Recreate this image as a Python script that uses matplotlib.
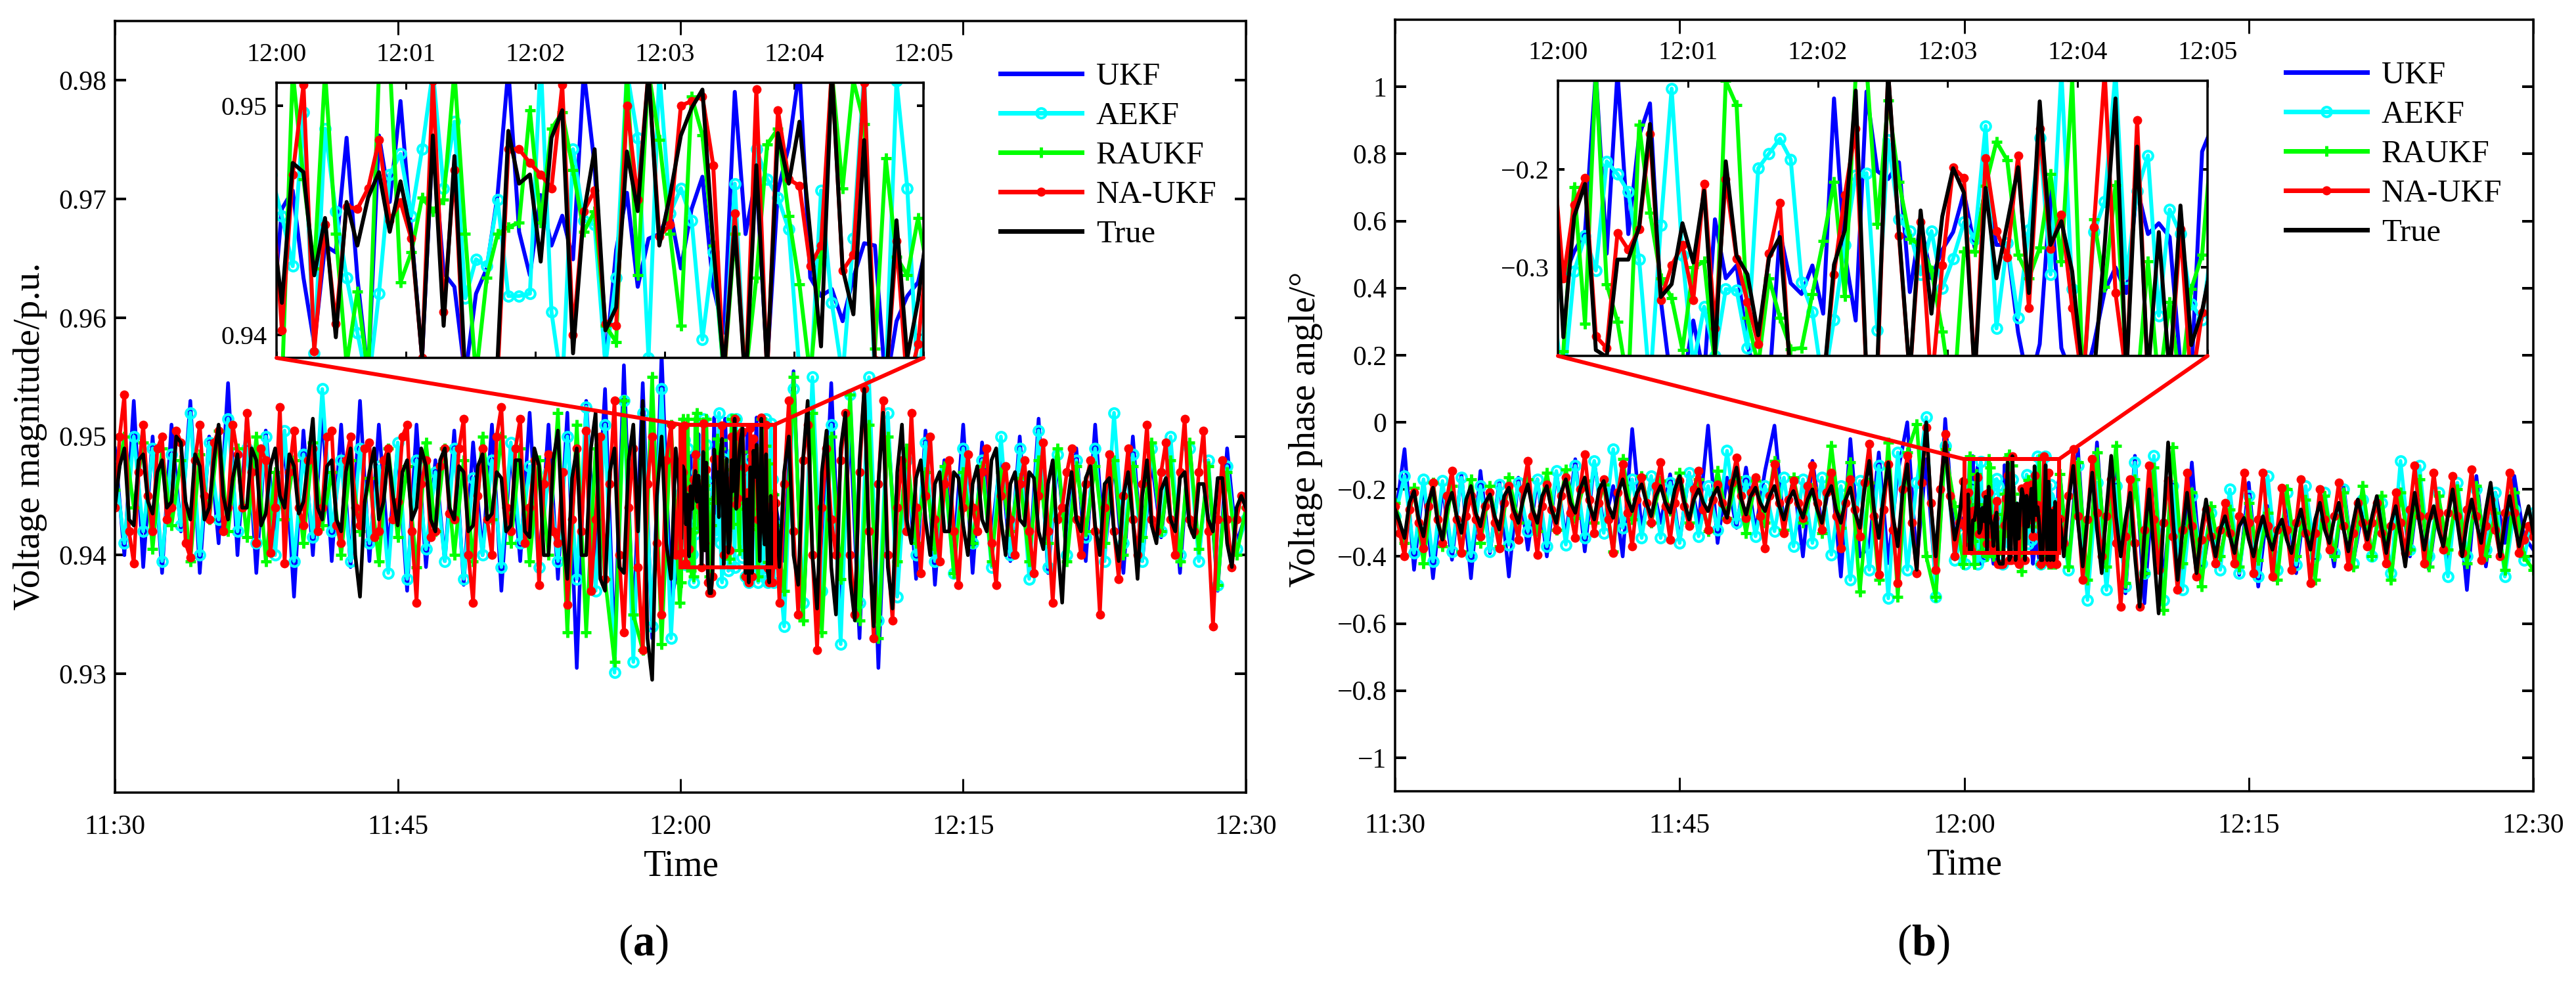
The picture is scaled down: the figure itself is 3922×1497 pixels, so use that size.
import numpy as np
import matplotlib
matplotlib.use("Agg")
import matplotlib.pyplot as plt
from matplotlib.patches import Rectangle, ConnectionPatch
from matplotlib.ticker import FuncFormatter

plt.rcParams["font.family"] = ["Liberation Serif", "DejaVu Serif"]
plt.rcParams["mathtext.fontset"] = "custom"
plt.rcParams["mathtext.bf"] = "Liberation Serif:bold"
plt.rcParams["mathtext.rm"] = "Liberation Serif"

W, H = 3923, 1497

NAMES = ["UKF", "AEKF", "RAUKF", "NA-UKF", "True"]
MAIN_TICKS = [0, 15, 30, 45, 60]
MAIN_TICKLABELS = ["11:30", "11:45", "12:00", "12:15", "12:30"]
ZOOM_TICKS = [30, 31, 32, 33, 34, 35]
ZOOM_TICKLABELS = ["12:00", "12:01", "12:02", "12:03", "12:04", "12:05"]

# minutes after 11:30. the 5 s window around the zoom is read sample by sample,
# the rest of the hour is too dense to read: 15 s steps for the two top series
# (NA-UKF, True), 30 s for the ones underneath
T_ZOOM = 30 + (np.arange(-1, 61) + 0.5) * 5 / 60

# ---- panel (a), voltage magnitude in 1e-4 p.u. ----
MAG_PRE_UKF = [9490,9400,9530,9390,9500,9385,9510,9420,9530,9385,9500,9410,9545,9400,9515,9385,9505,9415,9495,9365,
               9505,9400,9520,9395,9510,9390,9530,9395,9510,9405,9490,9370,9510,9390,9480,9395,9505,9375,9495,9400,
               9510,9370,9490,9395,9520,9390,9510,9380,9520,9305,9530,9395,9540,9320,9560,9340,9545,9330,9570,9360]
MAG_PRE_AEKF = [9475,9410,9500,9420,9490,9395,9485,9425,9520,9400,9495,9430,9515,9420,9490,9410,9500,9400,9505,9395,
                9485,9415,9540,9420,9480,9395,9490,9410,9475,9385,9495,9380,9480,9405,9470,9395,9490,9380,9465,9400,
                9480,9390,9495,9410,9475,9390,9470,9395,9500,9380,9525,9370,9510,9301,9530,9310,9520,9340,9540,9330]
MAG_PRE_RAUKF = [9455,9500,9440,9495,9405,9490,9425,9480,9395,9485,9430,9505,9420,9490,9415,9500,9395,9470,9430,9480,
                 9410,9495,9425,9470,9400,9480,9420,9465,9395,9490,9415,9475,9390,9495,9420,9490,9400,9480,9395,9500,
                 9430,9500,9410,9490,9395,9480,9400,9520,9335,9510,9335,9490,9380,9310,9530,9350,9320,9550,9325,9510]
MAG_PRE_NAUKF = [9440,9500,9535,9420,9393,9470,9510,9450,9420,9490,9500,9430,9440,9505,9495,9410,9398,9480,9510,9450,
                 9430,9495,9505,9420,9440,9510,9485,9440,9520,9470,9410,9490,9480,9402,9440,9525,9393,9470,9505,9440,
                 9425,9480,9490,9420,9440,9500,9505,9425,9410,9480,9500,9440,9425,9490,9495,9415,9420,9480,9490,9430,
                 9445,9500,9510,9420,9360,9460,9480,9415,9420,9475,9490,9435,9430,9490,9515,9400,9360,9450,9490,9430,
                 9400,9500,9525,9440,9420,9490,9515,9410,9440,9480,9375,9460,9485,9420,9410,9470,9358,9430,9490,9420,
                 9505,9370,9430,9500,9380,9460,9530,9400,9335,9440,9490,9390,9320,9460,9500,9410,9350,9480,9510,9400]
MAG_PRE_TRUE = [9440,9475,9490,9430,9425,9480,9485,9445,9435,9470,9480,9440,9445,9500,9495,9445,9430,9485,9475,9430,
                9440,9480,9510,9450,9430,9465,9485,9440,9440,9490,9480,9425,9435,9475,9490,9450,9440,9485,9475,9435,
                9445,9480,9515,9440,9430,9475,9480,9430,9420,9470,9490,9400,9365,9445,9470,9490,9430,9445,9485,9450,
                9425,9470,9480,9430,9440,9490,9475,9430,9420,9480,9490,9440,9430,9475,9470,9420,9425,9475,9485,9430,
                9435,9470,9465,9420,9425,9480,9480,9420,9415,9490,9475,9400,9400,9480,9505,9420,9380,9465,9490,9400,
                9400,9490,9520,9380,9370,9470,9490,9390,9385,9480,9510,9420,9530,9330,9295,9450,9500,9410,9380,9490]

MAG_ZOOM_UKF = [9400,9455,9463,9425,9396,9439,9436,9486,9425,9382,9487,9458,9502,9445,9390,9486,9427,9421,9382,9418,9429,
                9461,9516,9445,9426,9461,9439,9452,9433,9515,9474,9387,9437,9462,9421,9442,9444,9454,9429,9455,9469,
                9421,9401,9506,9444,9469,9387,9463,9482,9516,9425,9417,9420,9406,9425,9440,9439,9377,9406,9417,9423,9444]
MAG_ZOOM_AEKF = [9470,9452,9430,9497,9392,9490,9454,9425,9401,9377,9418,9470,9479,9452,9481,9515,9464,9493,9416,9433,9430,
                 9459,9417,9417,9418,9520,9410,9377,9481,9450,9448,9387,9425,9515,9486,9390,9515,9453,9464,9450,9398,
                 9436,9382,9466,9377,9481,9468,9460,9446,9384,9377,9463,9414,9382,9442,9515,9377,9380,9511,9464,9377,9425]
MAG_ZOOM_RAUKF = [9360,9377,9515,9468,9429,9515,9444,9387,9419,9382,9515,9520,9423,9436,9460,9454,9459,9515,9444,9382,9425,
                  9444,9447,9449,9498,9449,9490,9497,9472,9445,9454,9404,9397,9515,9426,9515,9485,9444,9404,9504,9487,
                  9439,9382,9444,9382,9425,9483,9490,9452,9422,9382,9434,9515,9464,9511,9492,9394,9477,9434,9426,9451,9425]
MAG_ZOOM_NAUKF = [9470,9402,9470,9509,9393,9448,9405,9456,9455,9464,9485,9450,9458,9442,9390,9511,9410,9472,9377,9368,9368,
                  9382,9481,9481,9475,9470,9464,9509,9400,9454,9463,9405,9404,9500,9459,9515,9443,9448,9500,9502,9504,
                  9474,9382,9453,9377,9507,9382,9498,9468,9465,9430,9439,9516,9428,9435,9510,9389,9377,9441,9377,9396,9444]
MAG_ZOOM_TRUE = [9453,9414,9475,9471,9426,9451,9399,9458,9439,9460,9471,9445,9467,9444,9390,9487,9404,9478,9382,9368,9368,
                 9389,9489,9466,9470,9432,9486,9498,9392,9453,9481,9402,9412,9480,9454,9515,9439,9461,9487,9499,9507,
                 9439,9385,9447,9377,9474,9385,9488,9466,9493,9444,9395,9515,9429,9409,9485,9387,9377,9450,9390,9415,9453]

MAG_POST_UKF = [9395,9555,9345,9530,9370,9545,9355,9510,9330,9530,9305,9510,9385,9490,9380,9505,9375,9480,9400,9510,
                9385,9495,9415,9485,9395,9500,9390,9515,9385,9480,9400,9490,9395,9510,9400,9480,9385,9500,9395,9480,
                9415,9490,9385,9495,9400,9475,9370,9490,9410,9435]
MAG_POST_AEKF = [9340,9540,9360,9550,9370,9510,9325,9535,9360,9550,9345,9520,9365,9480,9400,9495,9395,9470,9385,9490,
                 9410,9480,9390,9500,9400,9490,9380,9505,9390,9485,9400,9480,9415,9490,9395,9520,9410,9485,9395,9490,
                 9420,9500,9400,9490,9395,9480,9375,9475,9405,9430]
MAG_POST_RAUKF = [9370,9550,9345,9520,9335,9500,9380,9535,9345,9510,9330,9500,9395,9490,9410,9470,9405,9475,9385,9470,
                  9410,9475,9395,9470,9420,9465,9395,9480,9410,9490,9395,9475,9420,9475,9410,9480,9400,9475,9415,9495,
                  9420,9480,9395,9495,9405,9475,9375,9470,9400,9440]
MAG_POST_NAUKF = [9360,9460,9530,9420,9350,9480,9510,9400,9320,9440,9490,9430,9400,9480,9520,9400,9350,9470,9540,9420,
                  9330,9460,9530,9400,9345,9440,9480,9420,9520,9440,9385,9450,9500,9430,9395,9460,9480,9420,9375,9440,
                  9485,9440,9420,9470,9490,9410,9375,9450,9475,9430,9400,9460,9480,9420,9385,9450,9495,9420,9360,9430,
                  9440,9470,9490,9430,9400,9460,9480,9420,9350,9440,9485,9420,9380,9450,9490,9430,9400,9460,9510,9430,
                  9420,9470,9495,9430,9400,9470,9515,9430,9420,9470,9505,9420,9340,9430,9480,9430,9390,9430,9450,9440]
MAG_POST_TRUE = [9390,9470,9500,9400,9375,9480,9530,9400,9355,9470,9505,9390,9350,9490,9520,9380,9345,9480,9540,9410,
                 9340,9460,9520,9390,9355,9470,9510,9430,9410,9465,9480,9430,9400,9460,9470,9420,9420,9470,9465,9425,
                 9400,9460,9475,9430,9420,9480,9490,9430,9400,9460,9470,9430,9425,9470,9465,9420,9405,9460,9480,9410,
                 9360,9440,9470,9430,9420,9465,9475,9425,9400,9460,9465,9420,9395,9450,9470,9430,9380,9450,9480,9425,
                 9410,9455,9465,9430,9420,9465,9470,9425,9415,9460,9460,9430,9420,9465,9465,9410,9390,9440,9450,9440]

# ---- panel (b), voltage phase angle in 1e-3 degrees ----
ANG_PRE_UKF = [-290,-80,-440,-175,-465,-190,-410,-155,-465,-145,-390,-175,-460,-165,-380,-170,-400,-150,-345,-110,
               -385,-120,-310,-190,-400,-20,-320,-170,-300,-155,-355,-150,-300,-10,-360,-165,-315,-135,-325,-145,
               -10,-310,-165,-400,-115,-310,-145,-460,-50,-400,-370,-90,-420,-150,0,-420,-110,-480,10,-360]
ANG_PRE_AEKF = [-280,-160,-390,-170,-415,-175,-385,-165,-400,-190,-385,-185,-365,-180,-325,-170,-370,-145,-365,-130,
                -345,-115,-330,-80,-315,-170,-345,-160,-345,-180,-360,-150,-340,-190,-320,-85,-300,-175,-340,-190,
                -325,-165,-370,-170,-360,-165,-395,-190,-470,-175,-440,-130,-525,-90,-440,-180,15,-520,-70,-410]
ANG_PRE_RAUKF = [-240,-360,-195,-420,-180,-370,-190,-385,-170,-360,-190,-370,-165,-300,-170,-325,-150,-320,-140,-285,
                 -175,-300,-185,-385,-110,-290,-160,-300,-175,-265,-150,-300,-170,-325,-145,-285,-165,-330,-175,-300,
                 -115,-320,-165,-300,-195,-330,-70,-315,-120,-505,-180,-470,-60,-520,-90,-5,-400,-520,-80,-250]
ANG_PRE_NAUKF = [-250,-330,-400,-260,-210,-300,-375,-250,-180,-290,-360,-220,-145,-290,-390,-280,-220,-290,-340,-250,
                 -210,-300,-375,-240,-190,-280,-350,-200,-115,-280,-395,-250,-185,-260,-320,-220,-165,-270,-345,-200,
                 -95,-230,-330,-240,-170,-290,-390,-210,-125,-270,-370,-230,-165,-240,-300,-190,-120,-250,-350,-240,
                 -175,-250,-310,-200,-145,-260,-320,-230,-185,-240,-290,-180,-105,-220,-285,-210,-165,-280,-375,-220,
                 -125,-240,-330,-230,-175,-240,-285,-190,-130,-240,-320,-210,-150,-280,-375,-240,-170,-260,-340,-180,
                 -65,-280,-455,-260,-125,-320,-480,-200,-100,-300,-450,-180,-15,-240,-440,-200,-35,-220,-400,-300]
ANG_PRE_TRUE = [-260,-300,-345,-240,-205,-290,-340,-240,-195,-300,-350,-250,-210,-280,-330,-230,-190,-270,-310,-240,
                -215,-280,-320,-220,-195,-260,-300,-230,-185,-260,-300,-220,-190,-260,-300,-210,-170,-240,-270,-200,
                -165,-250,-290,-200,-175,-250,-285,-210,-170,-230,-265,-210,-185,-240,-280,-220,-190,-240,-270,-200,
                -160,-240,-290,-230,-200,-240,-265,-220,-195,-250,-285,-190,-135,-230,-275,-220,-195,-240,-265,-220,
                -190,-250,-290,-230,-205,-250,-285,-230,-200,-260,-300,-220,-190,-260,-300,-230,-195,-270,-315,-200,
                -115,-260,-345,-220,-120,-280,-370,-210,-125,-320,-440,-180,0,-250,-400,-200,-60,-240,-350,-280]

ANG_ZOOM_UKF = [-285,-311,-284,-264,-101,-286,-101,-266,-166,-133,-333,-422,-422,-354,-411,-251,-311,-298,-378,-422,-422,
                -264,-316,-327,-298,-347,-128,-286,-354,-121,-202,-210,-193,-325,-255,-311,-282,-264,-224,-280,-219,
                -277,-277,-366,-422,-378,-222,-382,-411,-422,-378,-324,-300,-326,-219,-266,-255,-269,-400,-411,-182,-155]
ANG_ZOOM_AEKF = [-333,-422,-304,-268,-303,-192,-205,-223,-292,-422,-257,-118,-288,-400,-340,-390,-322,-323,-382,-199,-184,
                 -169,-190,-315,-345,-422,-353,-277,-206,-204,-364,-170,-251,-263,-307,-263,-321,-291,-254,-271,-156,
                 -362,-275,-351,-262,-168,-307,-101,-322,-422,-264,-233,-101,-311,-222,-186,-349,-241,-266,-337,-353,-266]
ANG_ZOOM_RAUKF = [-422,-385,-218,-357,-101,-317,-355,-422,-155,-244,-311,-331,-384,-300,-294,-400,-110,-135,-351,-400,-311,
                  -351,-383,-382,-327,-273,-213,-329,-105,-95,-256,-130,-213,-271,-277,-303,-365,-444,-284,-284,-217,
                  -172,-191,-287,-311,-280,-205,-294,-109,-422,-251,-320,-216,-400,-422,-294,-422,-335,-422,-322,-287,-155]
ANG_ZOOM_NAUKF = [-177,-311,-236,-209,-370,-382,-265,-282,-261,-164,-333,-298,-277,-333,-215,-362,-210,-291,-335,-378,-286,
                  -234,-422,-422,-422,-422,-307,-226,-159,-411,-411,-101,-268,-411,-254,-422,-298,-198,-209,-411,-189,
                  -263,-290,-186,-341,-159,-281,-246,-341,-422,-259,-101,-326,-411,-150,-422,-400,-411,-261,-422,-346,-288]
ANG_ZOOM_TRUE = [-168,-371,-248,-215,-384,-391,-292,-292,-259,-154,-330,-317,-255,-295,-222,-388,-192,-288,-307,-369,-290,
                 -269,-411,-422,-422,-422,-297,-262,-120,-411,-400,-101,-264,-411,-242,-347,-248,-199,-224,-411,-219,
                 -311,-255,-198,-326,-131,-277,-253,-304,-411,-411,-277,-128,-411,-177,-411,-264,-411,-237,-379,-344,-288]

ANG_POST_UKF = [-430,-80,-520,-60,-470,-120,-510,-100,-540,-150,-470,-185,-480,-120,-470,-290,-400,-250,-455,-180,
                -490,-250,-430,-230,-450,-220,-410,-250,-430,-190,-420,-260,-390,-230,-460,-200,-400,-170,-440,-230,
                -410,-200,-500,-160,-430,-210,-360,-160,-340,-380]
ANG_POST_AEKF = [-440,-130,-530,-180,-500,-190,-490,-120,-450,-100,-530,-190,-500,-220,-420,-270,-440,-200,-450,-220,
                 -460,-160,-440,-210,-425,-190,-400,-210,-390,-200,-420,-230,-400,-240,-450,-115,-380,-130,-400,-210,
                 -460,-180,-400,-200,-380,-210,-460,-260,-410,-270]
ANG_POST_RAUKF = [-430,-120,-470,-90,-430,-70,-480,-170,-450,-135,-560,-75,-420,-210,-490,-250,-400,-260,-430,-240,
                  -410,-270,-470,-200,-400,-230,-470,-220,-400,-210,-430,-190,-400,-220,-470,-210,-380,-170,-430,-220,
                  -380,-200,-420,-190,-400,-270,-440,-210,-400,-440]
ANG_POST_NAUKF = [-360,-220,-80,-280,-470,-290,-110,-270,-400,-280,-170,-360,-550,-340,-170,-360,-550,-320,-130,-290,
                  -440,-300,-175,-340,-500,-320,-150,-310,-460,-350,-260,-340,-420,-320,-240,-330,-420,-280,-150,-300,
                  -450,-290,-150,-310,-460,-320,-195,-320,-440,-300,-170,-330,-480,-330,-200,-290,-380,-280,-180,-310,
                  -430,-330,-240,-300,-370,-300,-240,-330,-420,-310,-210,-300,-390,-260,-130,-280,-420,-280,-150,-270,
                  -380,-270,-160,-280,-390,-260,-140,-280,-410,-310,-230,-320,-400,-270,-150,-270,-390,-350,-310,-340]
ANG_POST_TRUE = [-400,-240,-130,-300,-430,-280,-150,-320,-450,-260,-100,-280,-400,-290,-210,-400,-550,-340,-200,-390,
                 -570,-300,-60,-280,-470,-330,-210,-340,-450,-320,-230,-330,-400,-320,-280,-340,-390,-310,-285,-350,
                 -400,-330,-280,-340,-380,-320,-290,-350,-390,-310,-260,-330,-380,-290,-240,-320,-360,-290,-240,-320,
                 -385,-300,-230,-290,-350,-280,-220,-310,-390,-300,-250,-340,-430,-310,-210,-300,-380,-300,-250,-320,
                 -370,-280,-200,-300,-400,-300,-230,-300,-360,-260,-180,-290,-400,-300,-220,-300,-370,-300,-250,-330]

MAG_TICKS = [0.93, 0.94, 0.95, 0.96, 0.97, 0.98]
MAG_ZOOM_TICKS = [0.94, 0.95]
ANG_TICKS = [-1, -0.8, -0.6, -0.4, -0.2, 0, 0.2, 0.4, 0.6, 0.8, 1]
ANG_ZOOM_TICKS = [-0.3, -0.2]

STYLES = [
    dict(color="#0000ff"),
    dict(color="#00ffff", marker="o", ms=10.5, mfc="none", mew=3),
    dict(color="#00ff00", marker="+", ms=11, mew=3.5),
    dict(color="#ff0000", marker="o", ms=10, mew=0),
    dict(color="#000000"),
]
FS = 30
PX = 72 / 100  # one pixel in points at dpi=100


def to_fig(x0, y0, x1, y1):
    return [x0 / W, 1 - y1 / H, (x1 - x0) / W, (y1 - y0) / H]


def panel(fig, box, zoom_box, pre, zoom, post, scale, ylim, zylim, yticks, zyticks, yfmt, legend_xy):
    ax = fig.add_axes(to_fig(*box))
    handles = []
    for a, b, c, st, name in zip(pre, zoom, post, STYLES, NAMES):
        t_pre = np.arange(len(a)) * 30 / len(a)
        t_post = 35 + (np.arange(len(c)) + 1) * 25 / len(c)
        t = np.concatenate([t_pre, T_ZOOM, t_post])
        y = np.concatenate([a, b, c]) * scale
        handles.append(ax.plot(t, y, lw=5.5 * PX, label=name, **st)[0])
    ax.set_xlim(0, 60)
    ax.set_ylim(*ylim)
    ax.set_xticks(MAIN_TICKS, MAIN_TICKLABELS)
    ax.set_yticks(yticks)
    ax.yaxis.set_major_formatter(FuncFormatter(yfmt))
    ax.tick_params(axis="x", direction="in", top=True, length=21 * PX, width=3 * PX, labelsize=FS, pad=24)
    ax.tick_params(axis="y", direction="in", right=True, length=17 * PX, width=4 * PX, labelsize=FS, pad=9)
    for s in ax.spines.values():
        s.set_linewidth(3.5 * PX)

    # zoom window on top of the main axes
    ins = fig.add_axes(to_fig(*zoom_box), zorder=5)
    for b, st in zip(zoom, STYLES):
        ins.plot(T_ZOOM, np.asarray(b) * scale, lw=6 * PX, **st)
    ins.set_xlim(30, 35)
    ins.set_ylim(*zylim)
    ins.set_xticks(ZOOM_TICKS, ZOOM_TICKLABELS)
    ins.set_yticks(zyticks)
    ins.yaxis.set_major_formatter(FuncFormatter(yfmt))
    ins.tick_params(axis="x", direction="in", top=True, labeltop=True, labelbottom=False,
                    length=10 * PX, width=3 * PX, labelsize=FS - 1, pad=17)
    ins.tick_params(axis="y", direction="in", right=True, length=10 * PX, width=4 * PX, labelsize=FS - 1, pad=10)
    for s in ins.spines.values():
        s.set_linewidth(3.5 * PX)

    # red box and the two connector lines
    ax.add_patch(Rectangle((30, zylim[0]), 5, zylim[1] - zylim[0], fill=False, ec="#ff0000", lw=6 * PX, zorder=6))
    for ax_x, data_x in [(0, 30), (1, 35)]:
        con = ConnectionPatch(xyA=(ax_x, 0), coordsA=ins.transAxes, xyB=(data_x, zylim[1]), coordsB=ax.transData,
                              color="#ff0000", lw=6 * PX, zorder=7)
        fig.add_artist(con)

    leg = fig.legend(handles=handles, loc="upper left", bbox_to_anchor=(legend_xy[0] / W, 1 - legend_xy[1] / H),
                     frameon=False, fontsize=35, handlelength=2.55, handletextpad=0.45, labelspacing=0.33,
                     borderpad=0, borderaxespad=0, numpoints=1)
    for line in leg.get_lines():
        line.set_linewidth(7 * PX)
    return ax


def fmt_mag(v, _):
    return f"{v:.2f}"


def fmt_ang(v, _):
    s = f"{v:.1f}".rstrip("0").rstrip(".")
    if s in ("-0", ""):
        s = "0"
    return s.replace("-", "\u2212")


fig = plt.figure(figsize=(W / 100, H / 100), dpi=100, facecolor="white")

mag_pre = [np.array(v) for v in (MAG_PRE_UKF, MAG_PRE_AEKF, MAG_PRE_RAUKF, MAG_PRE_NAUKF, MAG_PRE_TRUE)]
mag_zoom = [np.array(v) for v in (MAG_ZOOM_UKF, MAG_ZOOM_AEKF, MAG_ZOOM_RAUKF, MAG_ZOOM_NAUKF, MAG_ZOOM_TRUE)]
mag_post = [np.array(v) for v in (MAG_POST_UKF, MAG_POST_AEKF, MAG_POST_RAUKF, MAG_POST_NAUKF, MAG_POST_TRUE)]
ang_pre = [np.array(v) for v in (ANG_PRE_UKF, ANG_PRE_AEKF, ANG_PRE_RAUKF, ANG_PRE_NAUKF, ANG_PRE_TRUE)]
ang_zoom = [np.array(v) for v in (ANG_ZOOM_UKF, ANG_ZOOM_AEKF, ANG_ZOOM_RAUKF, ANG_ZOOM_NAUKF, ANG_ZOOM_TRUE)]
ang_post = [np.array(v) for v in (ANG_POST_UKF, ANG_POST_AEKF, ANG_POST_RAUKF, ANG_POST_NAUKF, ANG_POST_TRUE)]

panel(fig, (175, 32, 1897, 1207), (421, 126, 1406, 545), mag_pre, mag_zoom, mag_post, 1e-4,
      (0.92, 0.985), (0.939, 0.951), MAG_TICKS, MAG_ZOOM_TICKS, fmt_mag, (1523, 95))
panel(fig, (2124, 30, 3857, 1205), (2372, 123, 3361, 542), ang_pre, ang_zoom, ang_post, 1e-3,
      (-1.1, 1.2), (-0.39, -0.11), ANG_TICKS, ANG_ZOOM_TICKS, fmt_ang, (3480, 93))

fig.text(1037 / W, 1 - 1320 / H, "Time", ha="center", va="center", fontsize=40)
fig.text(2991 / W, 1 - 1318 / H, "Time", ha="center", va="center", fontsize=40)
fig.text(46 / W, 1 - 664 / H, "Voltage magnitude/p.u.", rotation=90, ha="center", va="center", fontsize=41)
fig.text(1988 / W, 1 - 654 / H, "Voltage phase angle/\u00b0", rotation=90, ha="center", va="center", fontsize=40)
fig.text(979 / W, 1 - 1438 / H, r"($\mathbf{a}$)", ha="center", va="center", fontsize=48)
fig.text(2928 / W, 1 - 1438 / H, r"($\mathbf{b}$)", ha="center", va="center", fontsize=48)

fig.savefig("out.png", dpi=100, facecolor="white")
